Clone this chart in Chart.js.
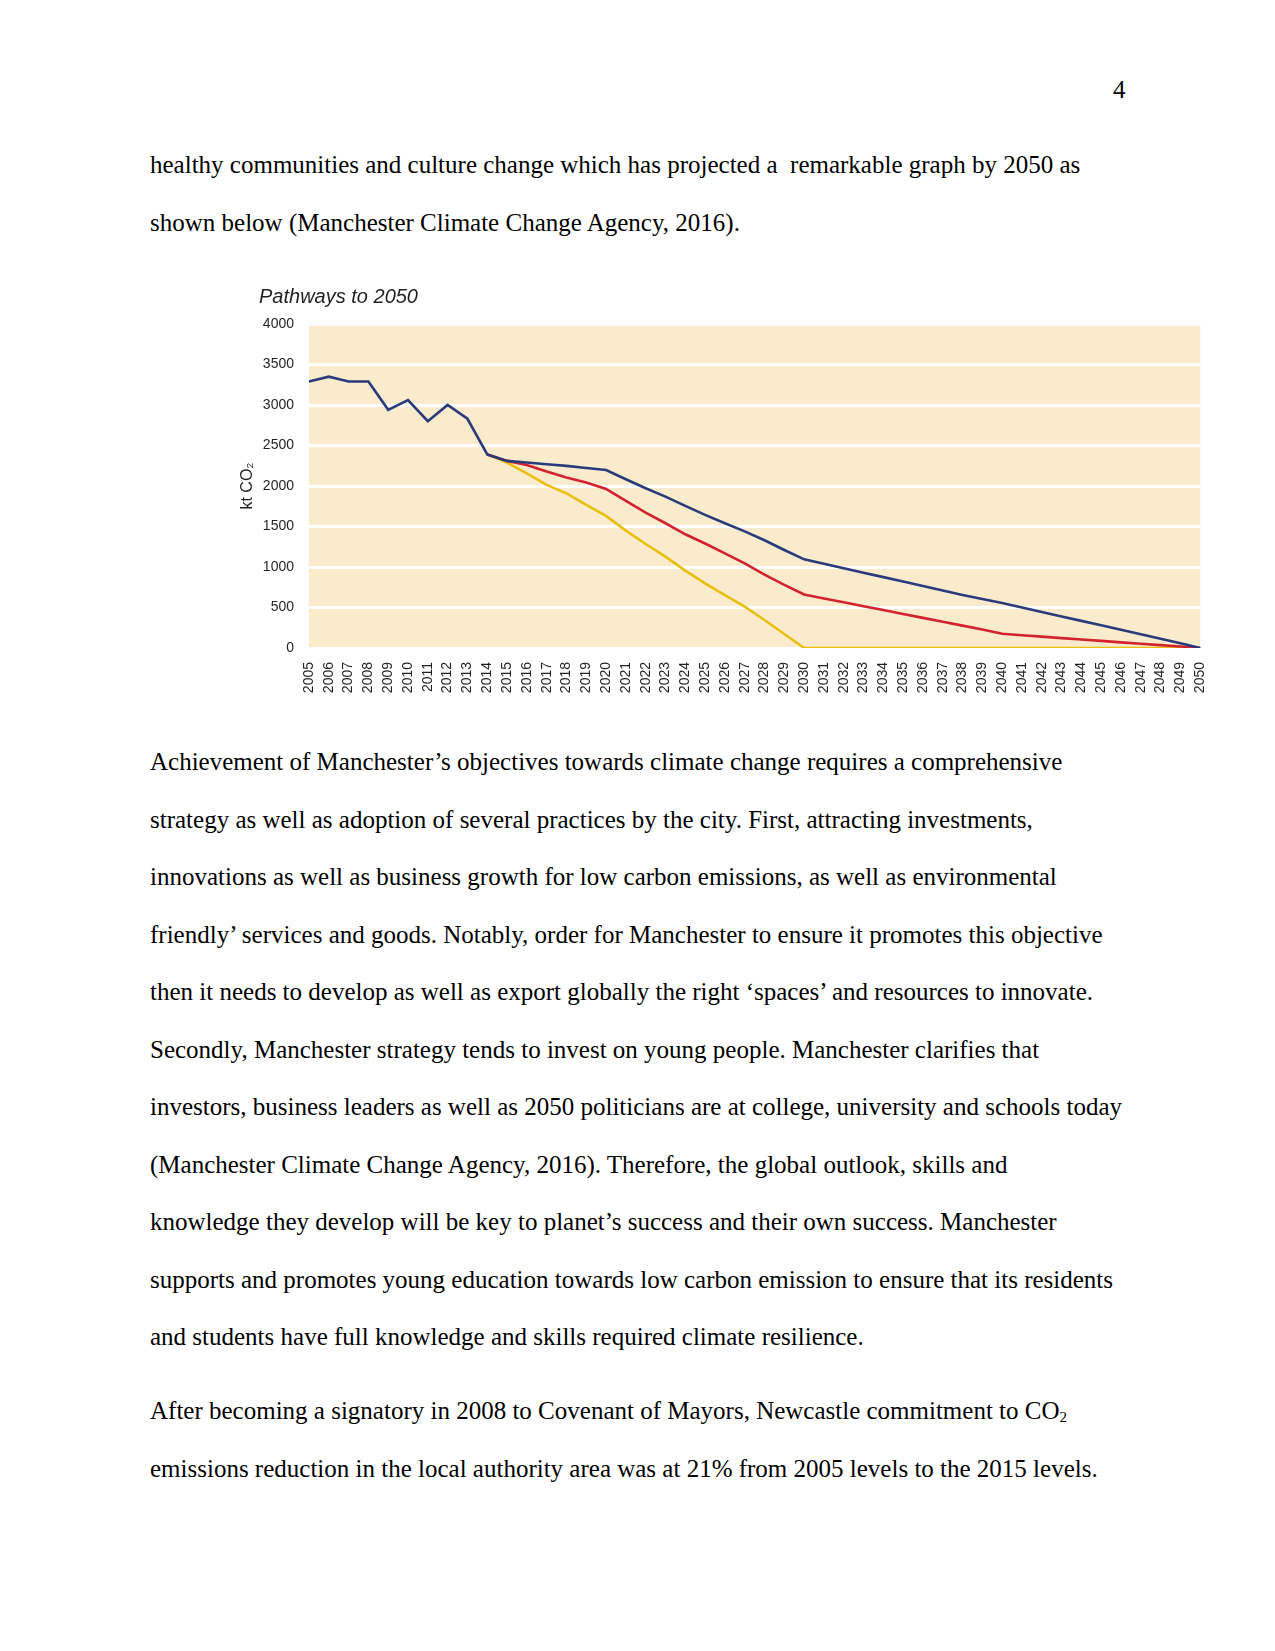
<!DOCTYPE html>
<html>
<head>
<meta charset="utf-8">
<script src="https://cdn.jsdelivr.net/npm/chart.js@4.4.0/dist/chart.umd.min.js"></script>
<style>
  html, body { margin: 0; padding: 0; background: #fff; }
  body { width: 1275px; height: 1651px; position: relative; overflow: hidden;
         font-family: "Liberation Serif", "Times New Roman", serif; color: #000; }
  .pagenum { position: absolute; left: 1113px; top: 76px; font-size: 25px; }
  .txt { position: absolute; left: 150px; font-size: 25px; line-height: 57.5px; white-space: pre; }
  #wrap { position: absolute; left: 230px; top: 260px; width: 993px; height: 440px; }
  sub { font-size: 15px; vertical-align: -3px; line-height: 0; }
</style>
</head>
<body>
<div class="pagenum">4</div>
<div class="txt" style="top:136px">healthy communities and culture change which has projected a  remarkable graph by 2050 as
shown below (Manchester Climate Change Agency, 2016).</div>

<div id="wrap"><canvas id="pathChart"></canvas></div>

<div class="txt" style="top:733px">Achievement of Manchester’s objectives towards climate change requires a comprehensive
strategy as well as adoption of several practices by the city. First, attracting investments,
innovations as well as business growth for low carbon emissions, as well as environmental
friendly’ services and goods. Notably, order for Manchester to ensure it promotes this objective
then it needs to develop as well as export globally the right ‘spaces’ and resources to innovate.
Secondly, Manchester strategy tends to invest on young people. Manchester clarifies that
investors, business leaders as well as 2050 politicians are at college, university and schools today
(Manchester Climate Change Agency, 2016). Therefore, the global outlook, skills and
knowledge they develop will be key to planet’s success and their own success. Manchester
supports and promotes young education towards low carbon emission to ensure that its residents
and students have full knowledge and skills required climate resilience.</div>

<div class="txt" style="top:1382px">After becoming a signatory in 2008 to Covenant of Mayors, Newcastle commitment to CO<sub>2</sub>
emissions reduction in the local authority area was at 21% from 2005 levels to the 2015 levels.</div>

<script>
var years = ["2005", "2006", "2007", "2008", "2009", "2010", "2011", "2012", "2013", "2014",
  "2015", "2016", "2017", "2018", "2019", "2020", "2021", "2022", "2023", "2024",
  "2025", "2026", "2027", "2028", "2029", "2030", "2031", "2032", "2033", "2034",
  "2035", "2036", "2037", "2038", "2039", "2040", "2041", "2042", "2043", "2044",
  "2045", "2046", "2047", "2048", "2049", "2050"];

// blue pathway
var pathBlue = [3290, 3350, 3290, 3290, 2940, 3060, 2800, 3000, 2830, 2390,
  2310, 2290, 2268, 2248, 2223, 2198, 2083, 1972, 1869, 1754,
  1643, 1540, 1440, 1330, 1210, 1095, 1040, 985, 930, 875,
  820, 765, 710, 655, 605, 555, 500, 445, 390, 335,
  280, 225, 170, 115, 58, 0];

// red pathway
var pathRed = [null, null, null, null, null, null, null, null, null, 2390,
  2310, 2260, 2178, 2104, 2042, 1964, 1815, 1671, 1540, 1404,
  1290, 1169, 1046, 905, 780, 660, 612, 564, 516, 468,
  420, 372, 324, 276, 228, 175, 158, 140, 122, 105,
  88, 70, 53, 35, 18, 0];

// yellow pathway
var pathYellow = [null, null, null, null, null, null, null, null, null, 2390,
  2289, 2157, 2013, 1910, 1766, 1630, 1449, 1284, 1128, 955,
  799, 654, 510, 346, 173, 0, 0, 0, 0, 0,
  0, 0, 0, 0, 0, 0, 0, 0, 0, 0,
  0, 0, 0, 0, 0, 0];

var yTicks = [0, 500, 1000, 1500, 2000, 2500, 3000, 3500, 4000];

var plotBg = {
  id: "plotBg",
  beforeDraw: function (chart) {
    var a = chart.chartArea;
    var ctx = chart.ctx;
    ctx.save();
    ctx.fillStyle = "#f9ebcc";
    ctx.fillRect(a.left, a.top, a.right - a.left, a.bottom - a.top);
    ctx.restore();
  },
};

var sans = "'Liberation Sans', Arial, sans-serif";

new Chart(document.getElementById("pathChart"), {
  type: "line",
  data: {
    labels: years,
    datasets: [
      { label: "Blue", data: pathBlue, borderColor: "#2a3b7b", borderWidth: 2.6 },
      { label: "Red", data: pathRed, borderColor: "#d2232e", borderWidth: 2.6 },
      { label: "Yellow", data: pathYellow, borderColor: "#e9bf0c", borderWidth: 2.6 },
    ],
  },
  plugins: [plotBg],
  options: {
    responsive: true,
    maintainAspectRatio: false,
    animation: false,
    elements: { point: { radius: 0 }, line: { tension: 0 } },
    layout: { padding: { left: 29, right: 0, top: 0, bottom: 0 } },
    plugins: {
      legend: { display: false },
      tooltip: { enabled: false },
      title: {
        display: true,
        text: "Pathways to 2050",
        align: "start",
        color: "#231f20",
        font: { family: sans, size: 20, style: "italic", weight: "normal" },
        padding: { top: 25, bottom: 15 },
      },
    },
    scales: {
      x: {
        offset: false,
        grid: { display: false },
        border: { display: false },
        ticks: {
          autoSkip: false,
          maxRotation: 90,
          minRotation: 90,
          padding: 6,
          color: "#231f20",
          font: { family: sans, size: 14 },
        },
        afterFit: function (scale) { scale.height = 52; },
      },
      y: {
        min: 0,
        max: 4000,
        afterBuildTicks: function (scale) {
          scale.ticks = yTicks.map(function (v) { return { value: v }; });
        },
        grid: { color: "#ffffff", lineWidth: 3, drawTicks: false },
        border: { display: false },
        ticks: {
          padding: 15,
          color: "#231f20",
          font: { family: sans, size: 14 },
          callback: function (v) { return String(v); },
        },
        title: {
          display: true,
          text: "kt CO₂",
          color: "#231f20",
          font: { family: sans, size: 16 },
          padding: { top: -21, bottom: 0 },
        },
        afterFit: function (scale) { scale.width = 50; },
      },
    },
  },
});
</script>
</body>
</html>
